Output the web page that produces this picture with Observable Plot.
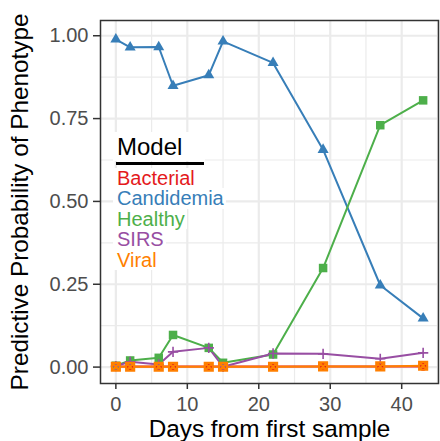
<!DOCTYPE html>
<html><head><meta charset="utf-8">
<script src="https://cdn.jsdelivr.net/npm/d3@7"></script>
<script src="https://cdn.jsdelivr.net/npm/@observablehq/plot@0.6"></script>
<style>
body{margin:0;background:#fff;font-family:"Liberation Sans",Arial,sans-serif;}
#wrap{position:relative;width:440px;height:441px;overflow:hidden;}
#legend{position:absolute;left:113px;top:132px;}
#legend .ttl{background:#fff;width:88px;padding-left:4px;box-sizing:content-box;font-size:24px;line-height:29px;height:29px;color:#000;}
#legend .bar{position:absolute;left:3px;top:30px;width:88px;height:3px;background:#000;}
#legend .lab{background:#fff;width:fit-content;padding:0 2px 0 4px;font-size:20px;line-height:20.4px;height:20.4px;white-space:nowrap;}
</style></head><body><div id="wrap"></div><script>
const days = [0, 2, 6, 8, 13, 15, 22, 29, 37, 43];
const models = ["Bacterial", "Candidemia", "Healthy", "SIRS", "Viral"];
const colors = ["#E41A1C", "#377EB8", "#4DAF4A", "#984EA3", "#FF7F00"];
const bacterial  = [0.002, 0.002, 0.002, 0.002, 0.002, 0.002, 0.002, 0.002, 0.002, 0.002];
const candidemia = [0.989, 0.965, 0.966, 0.849, 0.881, 0.983, 0.918, 0.656, 0.247, 0.147];
const healthy    = [0.004, 0.020, 0.028, 0.097, 0.058, 0.013, 0.038, 0.299, 0.730, 0.805];
const sirs       = [0.003, 0.016, 0.008, 0.046, 0.058, 0.001, 0.041, 0.040, 0.025, 0.043];
const viral      = [0.001, 0.001, 0.001, 0.001, 0.001, 0.001, 0.001, 0.002, 0.002, 0.004];
const xTicks = [0, 10, 20, 30, 40];
const xMinor = [5, 15, 25, 35, 45];
const yTicks = [0, 0.25, 0.5, 0.75, 1];
const yMinor = [0.125, 0.375, 0.625, 0.875];
const xLabel = "Days from first sample";
const yLabel = "Predictive Probability of Phenotype";
const legendTitle = "Model";

const series = [bacterial, candidemia, healthy, sirs, viral];
const rows = [];
models.forEach((m, i) => days.forEach((d, j) => rows.push({model: m, day: d, value: series[i][j]})));
const byModel = m => rows.filter(r => r.model === m);

const squareCross = {draw(ctx, size) {
  const s = Math.sqrt(size) / 2;
  ctx.moveTo(-s, -s); ctx.lineTo(s, -s); ctx.lineTo(s, s); ctx.lineTo(-s, s); ctx.closePath();
  ctx.moveTo(-s, -s); ctx.lineTo(s, s); ctx.moveTo(s, -s); ctx.lineTo(-s, s);
}};
const plusSym = {draw(ctx, size) {
  const s = Math.sqrt(size) / 2;
  ctx.moveTo(-s, 0); ctx.lineTo(s, 0); ctx.moveTo(0, -s); ctx.lineTo(0, s);
}};

const gridStyle = {stroke: "#EBEBEB", strokeOpacity: 1};
const chart = Plot.plot({
  width: 440, height: 441,
  marginLeft: 100, marginRight: 2, marginTop: 20, marginBottom: 58,
  style: {fontFamily: "'Liberation Sans', Arial, sans-serif", background: "white", overflow: "visible"},
  x: {domain: [-2.15, 45.15]},
  y: {domain: [-0.0495, 1.046]},
  color: {domain: models, range: colors},
  marks: [
    Plot.gridX(xMinor, {...gridStyle, strokeWidth: 1.2}),
    Plot.gridY(yMinor, {...gridStyle, strokeWidth: 1.2}),
    Plot.gridX(xTicks, {...gridStyle, strokeWidth: 2.2}),
    Plot.gridY(yTicks, {...gridStyle, strokeWidth: 2.2}),
    Plot.line(rows, {x: "day", y: "value", z: "model", stroke: "model", strokeWidth: 2}),
    Plot.dot(byModel("Bacterial"), {x: "day", y: "value", r: 4.4, symbol: "circle", fill: "model", stroke: "none"}),
    Plot.dot(byModel("Candidemia"), {x: "day", y: "value", r: 4.1, symbol: "triangle", fill: "model", stroke: "none"}),
    Plot.dot(byModel("Healthy"), {x: "day", y: "value", r: 4.8, symbol: "square", fill: "model", stroke: "none"}),
    Plot.dot(byModel("SIRS"), {x: "day", y: "value", r: 5.8, symbol: plusSym, fill: "none", stroke: "model", strokeWidth: 1.6}),
    Plot.dot(byModel("Viral"), {x: "day", y: "value", r: 4.5, symbol: squareCross, fill: "none", stroke: "model", strokeWidth: 2.2}),
    Plot.frame({stroke: "#333333", strokeWidth: 1.5}),
    Plot.axisX({ticks: xTicks, tickSize: 6, tickPadding: 7, fontSize: 20, fill: "#4D4D4D", stroke: "#333333", strokeWidth: 1.5, label: null}),
    Plot.axisY({ticks: yTicks, tickFormat: d3.format(".2f"), tickSize: 7, tickPadding: 5, fontSize: 20, fill: "#4D4D4D", stroke: "#333333", strokeWidth: 1.5, label: null}),
    Plot.text([xLabel], {text: d => d, frameAnchor: "bottom", dy: 36, lineAnchor: "top", fontSize: 24.3, fill: "black"}),
    Plot.text([yLabel], {text: d => d, frameAnchor: "left", rotate: -90, dx: -90, lineAnchor: "top", textAnchor: "middle", fontSize: 24.3, fill: "black"})
  ]
});
const wrap = document.getElementById("wrap");
wrap.appendChild(chart);
const lg = document.createElement("div");
lg.id = "legend";
const t = document.createElement("div"); t.className = "ttl"; t.textContent = legendTitle; lg.appendChild(t);
const b = document.createElement("div"); b.className = "bar"; lg.appendChild(b);
const sp = document.createElement("div"); sp.style.height = "7px"; lg.appendChild(sp);
models.forEach((m, i) => {
  const d = document.createElement("div"); d.className = "lab"; d.textContent = m; d.style.color = colors[i]; lg.appendChild(d);
});
wrap.appendChild(lg);
</script></body></html>
